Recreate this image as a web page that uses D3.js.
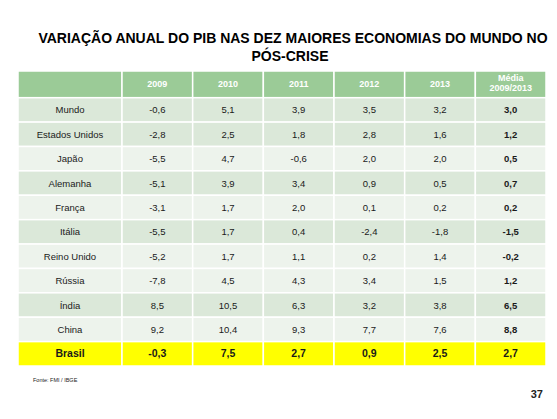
<!DOCTYPE html>
<html>
<head>
<meta charset="utf-8">
<script src="https://cdn.jsdelivr.net/npm/d3@7.9.0/dist/d3.min.js"></script>
<style>
  body { margin: 0; background: #fff; }
  svg { display: block; font-family: "Liberation Sans", Arial, sans-serif; }
</style>
</head>
<body>
<svg width="557" height="419"></svg>
<script>
// data
const countries = ['Mundo', 'Estados Unidos', 'Japão', 'Alemanha', 'França', 'Itália',
  'Reino Unido', 'Rússia', 'Índia', 'China', 'Brasil'];
const columns = ['2009', '2010', '2011', '2012', '2013', 'Média'];
const v2009 = [-0.6, -2.8, -5.5, -5.1, -3.1, -5.5, -5.2, -7.8, 8.5, 9.2, -0.3];
const v2010 = [5.1, 2.5, 4.7, 3.9, 1.7, 1.7, 1.7, 4.5, 10.5, 10.4, 7.5];
const v2011 = [3.9, 1.8, -0.6, 3.4, 2.0, 0.4, 1.1, 4.3, 6.3, 9.3, 2.7];
const v2012 = [3.5, 2.8, 2.0, 0.9, 0.1, -2.4, 0.2, 3.4, 3.2, 7.7, 0.9];
const v2013 = [3.2, 1.6, 2.0, 0.5, 0.2, -1.8, 1.4, 1.5, 3.8, 7.6, 2.5];
const media = [3.0, 1.2, 0.5, 0.7, 0.2, -1.5, -0.2, 1.2, 6.5, 8.8, 2.7];

const series = [v2009, v2010, v2011, v2012, v2013, media];

// row banding as it appears on the slide
const darkRows = new Set(['Mundo', 'Estados Unidos', 'Alemanha', 'Itália', 'Índia']);

// comma decimals, plain hyphen for minus
const fmt = d => d3.format('.1f')(d).replace('.', ',').replace('\u2212', '-');

const svg = d3.select('svg');

// title
svg.append('text')
  .attr('x', 293).attr('y', 43)
  .attr('text-anchor', 'middle')
  .attr('font-size', 14).attr('font-weight', 'bold')
  .text('VARIAÇÃO ANUAL DO PIB NAS DEZ MAIORES ECONOMIAS DO MUNDO NO');
svg.append('text')
  .attr('x', 290).attr('y', 60.5)
  .attr('text-anchor', 'middle')
  .attr('font-size', 14).attr('font-weight', 'bold')
  .text('PÓS-CRISE');

const tableLeft = 18, labelRight = 122, tableRight = 546;
const headTop = 71, headBottom = 97.7, tableBottom = 366;

const x = d3.scaleBand().domain(columns).range([labelRight, tableRight]);
const y = d3.scaleBand().domain(countries).range([headBottom, tableBottom]);

const headerGreen = '#9bcb97';
const darkBand = '#dbe8d9';
const lightBand = '#edf3ec';
const stroke = '#ffffff';

// header row
const head = svg.append('g');
head.append('rect')
  .attr('x', tableLeft).attr('y', headTop)
  .attr('width', labelRight - tableLeft).attr('height', headBottom - headTop)
  .attr('fill', headerGreen).attr('stroke', stroke).attr('stroke-width', 1.5);
head.selectAll('rect.col')
  .data(columns)
  .join('rect')
  .attr('class', 'col')
  .attr('x', d => x(d)).attr('y', headTop)
  .attr('width', x.bandwidth()).attr('height', headBottom - headTop)
  .attr('fill', headerGreen).attr('stroke', stroke).attr('stroke-width', 1.5);
head.selectAll('text')
  .data(columns)
  .join('text')
  .attr('x', d => x(d) + x.bandwidth() / 2)
  .attr('y', d => d === 'Média' ? 81 : 87)
  .attr('text-anchor', 'middle')
  .attr('fill', '#fff').attr('font-weight', 'bold').attr('font-size', 9)
  .each(function (d) {
    const t = d3.select(this);
    if (d === 'Média') {
      t.append('tspan').attr('x', x(d) + x.bandwidth() / 2).text('Média');
      t.append('tspan').attr('x', x(d) + x.bandwidth() / 2).attr('dy', 10).text('2009/2013');
    } else {
      t.text(d);
    }
  });

// body rows
const rowFill = c => c === 'Brasil' ? '#ffff00' : (darkRows.has(c) ? darkBand : lightBand);

const rows = svg.selectAll('g.row')
  .data(countries)
  .join('g')
  .attr('class', 'row');

rows.append('rect')
  .attr('x', tableLeft).attr('y', c => y(c))
  .attr('width', labelRight - tableLeft).attr('height', y.bandwidth())
  .attr('fill', rowFill).attr('stroke', stroke).attr('stroke-width', 1.5);

rows.append('text')
  .attr('x', (tableLeft + labelRight) / 2)
  .attr('y', c => y(c) + y.bandwidth() / 2 + 3.5)
  .attr('text-anchor', 'middle')
  .attr('fill', '#1a1a1a')
  .attr('font-size', c => c === 'Brasil' ? 10.5 : 9.5)
  .attr('font-weight', c => c === 'Brasil' ? 'bold' : 'normal')
  .text(c => c);

rows.each(function (c, i) {
  const g = d3.select(this);
  const cells = columns.map((col, j) => ({ col, value: series[j][i] }));
  g.selectAll('rect.cell')
    .data(cells)
    .join('rect')
    .attr('class', 'cell')
    .attr('x', d => x(d.col)).attr('y', y(c))
    .attr('width', x.bandwidth()).attr('height', y.bandwidth())
    .attr('fill', rowFill(c)).attr('stroke', stroke).attr('stroke-width', 1.5);
  g.selectAll('text.val')
    .data(cells)
    .join('text')
    .attr('class', 'val')
    .attr('x', d => x(d.col) + x.bandwidth() / 2)
    .attr('y', y(c) + y.bandwidth() / 2 + 3.5)
    .attr('text-anchor', 'middle')
    .attr('fill', '#1a1a1a')
    .attr('font-size', c === 'Brasil' ? 10.5 : 9.5)
    .attr('font-weight', d => (c === 'Brasil' || d.col === 'Média') ? 'bold' : 'normal')
    .text(d => fmt(d.value));
});

// footer
svg.append('text')
  .attr('x', 33).attr('y', 382)
  .attr('font-size', 5.5).attr('fill', '#222')
  .text('Fonte: FMI / IBGE');
svg.append('text')
  .attr('x', 543).attr('y', 398)
  .attr('text-anchor', 'end')
  .attr('font-size', 11).attr('font-weight', 'bold').attr('fill', '#222')
  .text('37');
</script>
</body>
</html>
